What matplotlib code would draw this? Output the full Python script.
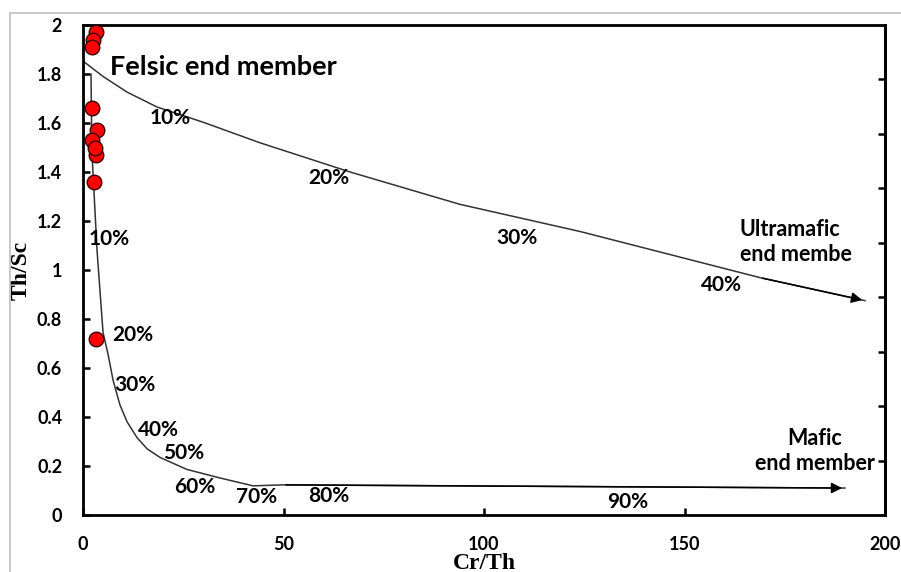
import matplotlib
matplotlib.use("Agg")
import matplotlib.pyplot as plt
from matplotlib.lines import Line2D

# sample points
cr_th = [3.2, 2.4, 2.2, 2.2, 3.5, 2.2, 3.2, 3.0, 2.7, 3.2]
th_sc = [1.97, 1.94, 1.91, 1.66, 1.57, 1.53, 1.47, 1.50, 1.36, 0.72]

# felsic -> ultramafic mixing line
ultra_x = [0, 5, 11, 18.5, 30, 44, 66.6, 94, 124, 168.8, 195]
ultra_y = [1.853, 1.79, 1.726, 1.665, 1.603, 1.52, 1.40, 1.268, 1.157, 0.969, 0.875]

# felsic -> mafic mixing line
mafic_x = [2.0, 2.2, 3.5, 5.0, 6.2, 7.5, 9.2, 11.0, 13.5, 16.0, 19.2, 25.9, 34.2, 42.4, 49.9, 190]
mafic_y = [1.80, 1.49, 1.08, 0.744, 0.66, 0.55, 0.45, 0.38, 0.315, 0.27, 0.235, 0.186, 0.151, 0.119, 0.123, 0.11]

# percentage labels
ultra_lbl = ["10%", "20%", "30%", "40%"]
ultra_lx = [21.7, 61.3, 108.2, 159.3]
ultra_ly = [1.62, 1.374, 1.129, 0.94]
mafic_lbl = ["10%", "20%", "30%", "40%", "50%", "60%", "70%", "80%", "90%"]
mafic_lx = [6.5, 12.5, 13.0, 18.7, 25.2, 27.9, 43.4, 61.3, 135.9]
mafic_ly = [1.128, 0.736, 0.532, 0.348, 0.254, 0.115, 0.074, 0.078, 0.053]

sans = "Lato"
serif = "Liberation Serif"

fig = plt.figure(figsize=(9.01, 5.72), dpi=100)
ax = fig.add_axes([83/901, 1-515/572, 802/901, 490/572])

# light frame around the picture
fig.add_artist(Line2D([10/901, 1], [1-13/572, 1-13/572], color="#c0c0c0", lw=1.2))
fig.add_artist(Line2D([10/901, 10/901], [0, 1-13/572], color="#c0c0c0", lw=1.2))

lc = "#333333"
ax.plot(ultra_x, ultra_y, color=lc, lw=1.1)
ax.annotate("", xy=(ultra_x[-1], ultra_y[-1]), xytext=(ultra_x[-2], ultra_y[-2]),
            arrowprops=dict(arrowstyle="-|>", color="black", lw=1.1, mutation_scale=16))
ax.plot(mafic_x, mafic_y, color=lc, lw=1.1)
ax.annotate("", xy=(mafic_x[-1], mafic_y[-1]), xytext=(mafic_x[-2], mafic_y[-2]),
            arrowprops=dict(arrowstyle="-|>", color="black", lw=1.1, mutation_scale=16))

ax.scatter(cr_th, th_sc, s=110, color="#ff0000", edgecolors="#3a0000", linewidths=1.0, zorder=5)

for t, x, y in zip(ultra_lbl, ultra_lx, ultra_ly):
    ax.text(x, y, t, ha="center", va="center", fontsize=15, fontweight="bold", family=sans)
for t, x, y in zip(mafic_lbl, mafic_lx, mafic_ly):
    ax.text(x, y, t, ha="center", va="center", fontsize=15, fontweight="bold", family=sans)

ax.text(6.7, 1.83, "Felsic end member", ha="left", va="center", fontsize=19.5,
        fontweight="bold", family=sans)
ax.text(163.8, 1.115, "Ultramafic\nend membe", ha="left", va="center", fontsize=15.5,
        fontweight="bold", family=sans, linespacing=1.25)
ax.text(182.5, 0.262, "Mafic\nend member", ha="center", va="center", fontsize=15.5,
        fontweight="bold", family=sans, linespacing=1.25)

ax.set_xlim(0, 200)
ax.set_ylim(0, 2)
ax.set_xticks([0, 50, 100, 150, 200])
ax.set_yticks([0, 0.2, 0.4, 0.6, 0.8, 1, 1.2, 1.4, 1.6, 1.8, 2])
ax.set_yticklabels(["0", "0.2", "0.4", "0.6", "0.8", "1", "1.2", "1.4", "1.6", "1.8", "2"])
ax.tick_params(axis="both", direction="in", length=5, width=1.8, labelsize=13, pad=15)
for lab in ax.get_xticklabels() + ax.get_yticklabels():
    lab.set_fontweight("bold")
    lab.set_family(sans)
for sp in ax.spines.values():
    sp.set_linewidth(2.0)

ax2 = ax.twinx()
ax2.set_ylim(0, 9)
ax2.set_yticks(range(1, 9))
ax2.tick_params(axis="y", direction="in", length=5, width=1.8, labelright=False)
ax2.spines["right"].set_linewidth(2.0)

ax.set_xlabel("Cr/Th", fontsize=17, fontweight="bold", family=serif, labelpad=0)
ax.set_ylabel("Th/Sc", fontsize=17, fontweight="bold", family=serif, labelpad=4)

fig.savefig("out.png", dpi=100)
